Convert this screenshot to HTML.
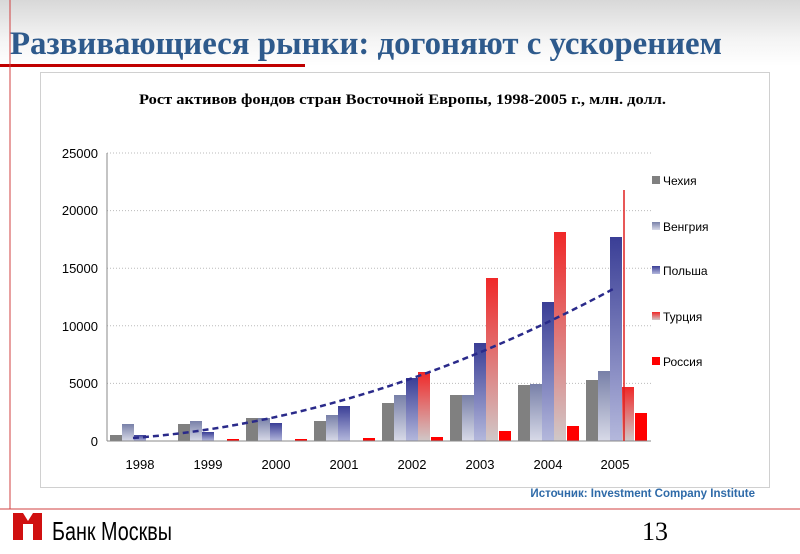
<!DOCTYPE html>
<html><head><meta charset="utf-8"><style>
body{margin:0;width:800px;height:554px;overflow:hidden;background:#fff;position:relative;font-family:"Liberation Sans",sans-serif}
.hdr{position:absolute;left:0;top:0;width:800px;height:66px;background:linear-gradient(#d8d8d8,#f4f4f4 60%,#fff)}
</style></head><body>
<div class="hdr"></div>
<svg width="800" height="554" style="position:absolute;left:0;top:0">
<defs>
<linearGradient id="hu" x1="0" y1="0" x2="0" y2="1"><stop offset="0" stop-color="#7880a8"/><stop offset="1" stop-color="#d8dae8"/></linearGradient>
<linearGradient id="pl" x1="0" y1="0" x2="0" y2="1"><stop offset="0" stop-color="#3a3e96"/><stop offset="1" stop-color="#b4b8dc"/></linearGradient>
<linearGradient id="tr" x1="0" y1="0" x2="0" y2="1"><stop offset="0" stop-color="#f02828"/><stop offset="1" stop-color="#d0c8c8"/></linearGradient>
</defs>
<text x="10" y="54" font-family="Liberation Serif,serif" font-weight="bold" font-size="33" fill="#2e5a8c" textLength="712" lengthAdjust="spacingAndGlyphs">Развивающиеся рынки: догоняют с ускорением</text>
<rect x="0" y="64" width="305" height="3" fill="#c00000"/>
<line x1="10" y1="0" x2="10" y2="509" stroke="#d04040" stroke-width="1"/>
<line x1="0" y1="509" x2="800" y2="509" stroke="#d04040" stroke-width="1"/>
<rect x="40.5" y="72.5" width="729" height="415" fill="#fff" stroke="#d0d0d0"/>
<text x="139" y="104" font-family="Liberation Serif,serif" font-weight="bold" font-size="15" textLength="527" lengthAdjust="spacingAndGlyphs">Рост активов фондов стран Восточной Европы, 1998-2005 г., млн. долл.</text>
<g stroke="#bbb" stroke-dasharray="1,2">
<line x1="107" y1="153" x2="651" y2="153"/><line x1="107" y1="210.6" x2="651" y2="210.6"/><line x1="107" y1="268.2" x2="651" y2="268.2"/><line x1="107" y1="325.8" x2="651" y2="325.8"/><line x1="107" y1="383.4" x2="651" y2="383.4"/>
</g>
<g font-size="13" text-anchor="end" fill="#000">
<text x="98" y="158">25000</text><text x="98" y="215">20000</text><text x="98" y="273">15000</text><text x="98" y="331">10000</text><text x="98" y="388">5000</text><text x="98" y="446">0</text>
</g>
<g id="bars"></g>
<line x1="107" y1="153" x2="107" y2="441" stroke="#888"/>
<line x1="107" y1="441" x2="651" y2="441" stroke="#888"/>
<line x1="624" y1="190" x2="624" y2="441" stroke="#e02020" stroke-width="1.5"/>
<path d="M133,438 Q370,420 615,288" fill="none" stroke="#2a2a8a" stroke-width="2.5" stroke-dasharray="6,4"/>
<g font-size="13" text-anchor="middle">
<text x="140" y="469">1998</text><text x="208" y="469">1999</text><text x="276" y="469">2000</text><text x="344" y="469">2001</text><text x="412" y="469">2002</text><text x="480" y="469">2003</text><text x="548" y="469">2004</text><text x="615" y="469">2005</text>
</g>
<g font-size="12">
<rect x="652" y="176" width="8" height="8" fill="#808080"/><text x="663" y="185">Чехия</text>
<rect x="652" y="222" width="8" height="8" fill="url(#hu)"/><text x="663" y="231">Венгрия</text>
<rect x="652" y="266" width="8" height="8" fill="url(#pl)"/><text x="663" y="275">Польша</text>
<rect x="652" y="312" width="8" height="8" fill="url(#tr)"/><text x="663" y="321">Турция</text>
<rect x="652" y="357" width="8" height="8" fill="#ff0000"/><text x="663" y="366">Россия</text>
</g>
<text x="755" y="497" text-anchor="end" font-size="11.5" font-weight="bold" fill="#2e6aa8">Источник: Investment Company Institute</text>
<path d="M13,513 h10 l5,8 l5,-8 h9 v27 h-9 v-16 h-10 v16 h-10z" fill="#d01010"/>
<text x="52" y="540" font-size="26" textLength="120" lengthAdjust="spacingAndGlyphs">Банк Москвы</text>
<text x="655" y="540" text-anchor="middle" font-family="Liberation Serif,serif" font-size="26">13</text>
</svg>
<script>
var tops=[[435,424,435,441,441],[424,421,432,441,439],[418,418,423,441,439],[421,415,406,441,438],[403,395,378,372,437],[395,395,343,278,431],[385,384,302,232,426],[380,371,237,387,413]];
var f=["#808080","url(#hu)","url(#pl)","url(#tr)","#ff0000"],s="";
for(var g=0;g<8;g++)for(var b=0;b<5;b++){var t=tops[g][b];if(t<441){var x=107+68*g+3+12*b;if(b==4)x+=1;s+='<rect x="'+x+'" y="'+t+'" width="12" height="'+(441-t)+'" fill="'+f[b]+'"/>';}}
document.getElementById("bars").innerHTML=s;
</script>
</body></html>
